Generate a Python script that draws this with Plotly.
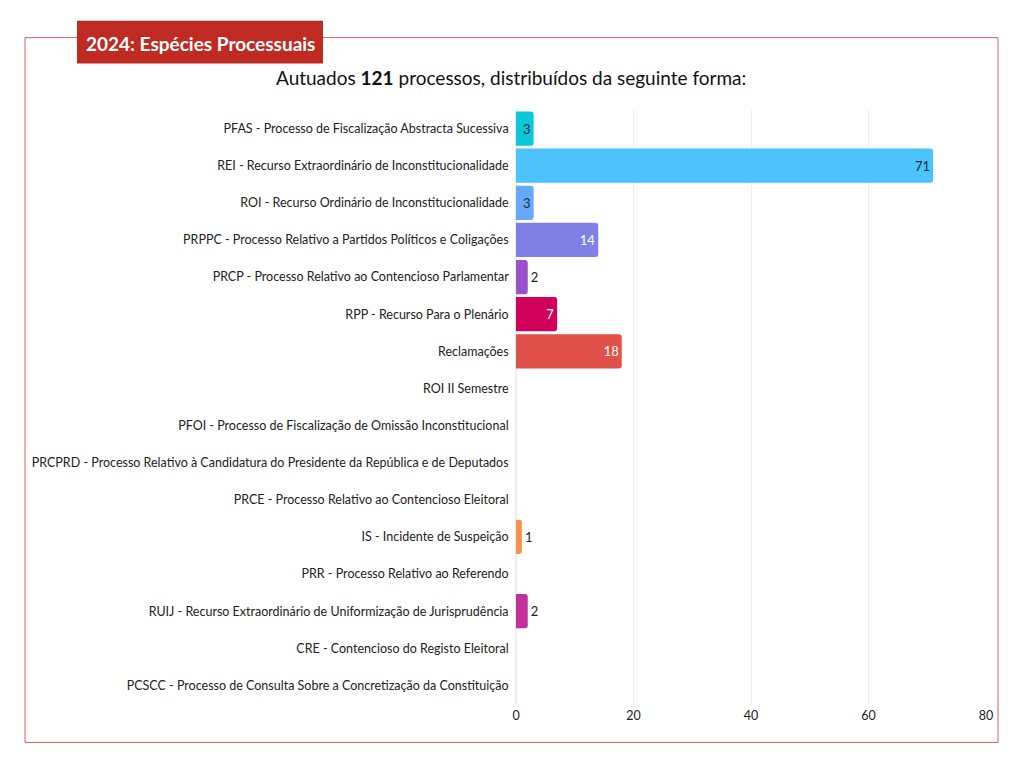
import plotly.graph_objects as go

categories = [
    "PFAS - Processo de Fiscalização Abstracta Sucessiva",
    "REI - Recurso Extraordinário de Inconstitucionalidade",
    "ROI - Recurso Ordinário de Inconstitucionalidade",
    "PRPPC - Processo Relativo a Partidos Políticos e Coligações",
    "PRCP - Processo Relativo ao Contencioso Parlamentar",
    "RPP - Recurso Para o Plenário",
    "Reclamações",
    "ROI II Semestre",
    "PFOI - Processo de Fiscalização de Omissão Inconstitucional",
    "PRCPRD - Processo Relativo à Candidatura do Presidente da República e de Deputados",
    "PRCE - Processo Relativo ao Contencioso Eleitoral",
    "IS - Incidente de Suspeição",
    "PRR - Processo Relativo ao Referendo",
    "RUIJ - Recurso Extraordinário de Uniformização de Jurisprudência",
    "CRE - Contencioso do Registo Eleitoral",
    "PCSCC - Processo de Consulta Sobre a Concretização da Constituição",
]
values = [3, 71, 3, 14, 2, 7, 18, 0, 0, 0, 0, 1, 0, 2, 0, 0]
bar_colors = ["#0cc6da", "#4cc3fb", "#66a9f9", "#7f80e6", "#9b51cb", "#d1005b",
              "#e0514a", "#cccccc", "#cccccc", "#cccccc", "#cccccc", "#f7934f",
              "#cccccc", "#c52f9b", "#cccccc", "#cccccc"]
text_positions = ["inside", "inside", "inside", "inside", "outside", "inside",
                  "inside", "none", "none", "none", "none", "outside",
                  "none", "outside", "none", "none"]
text_colors = ["#1d2b3a", "#1d2b3a", "#1d2b3a", "#ffffff", "#222222", "#ffffff",
               "#ffffff", "#222222", "#222222", "#222222", "#222222", "#222222",
               "#222222", "#222222", "#222222", "#222222"]
x_ticks = [0, 20, 40, 60, 80]

title_text = "2024: Espécies Processuais"
subtitle_text = "Autuados <b>121</b> processos, distribuídos da seguinte forma:"

FONT = "Lato"
OFF = 8  # page body margin offset

# plot area pixel geometry (in screenshot coordinates)
L, R, T, B = 516, 986, 109.5, 704.5
W, H = R - L, B - T
FIG_W, FIG_H = 1024 - OFF, 768 - OFF

def px_x(p):
    return (p - L) / W

def px_y(p):
    return (B - p) / H

fig = go.Figure(go.Bar(
    x=values,
    y=categories,
    orientation="h",
    marker=dict(color=bar_colors, cornerradius=3, line=dict(width=0)),
    text=[str(v) if v > 0 else "" for v in values],
    textposition=text_positions,
    insidetextanchor="end",
    textfont=dict(color=text_colors, size=13, family=FONT),
    outsidetextfont=dict(color="#222222", size=13, family=FONT),
    constraintext="none",
    cliponaxis=False,
))

fig.update_layout(
    width=FIG_W, height=FIG_H,
    margin=dict(l=L - OFF, r=1024 - R, t=T - OFF, b=768 - B, autoexpand=False),
    paper_bgcolor="white", plot_bgcolor="white",
    bargap=0.08,
    showlegend=False,
    font=dict(family=FONT, color="#222222", size=12),
    xaxis=dict(range=[0, 80], tickvals=x_ticks, showgrid=True, gridcolor="#eeeeee",
               gridwidth=1, zeroline=True, zerolinecolor="#eeeeee", showline=False,
               tickfont=dict(size=12.5, color="#222222"), ticks="", fixedrange=True,
               ticklabelstandoff=2),
    yaxis=dict(autorange="reversed", showgrid=False, ticks="", showline=False,
               tickfont=dict(size=12.5, color="#222222"), ticksuffix="  "),
    shapes=[
        dict(type="rect", xref="paper", yref="paper",
             x0=px_x(25), x1=px_x(998), y0=px_y(743), y1=px_y(37),
             line=dict(color="#e35d5d", width=1), fillcolor="rgba(0,0,0,0)", layer="below"),
        dict(type="rect", xref="paper", yref="paper",
             x0=px_x(77), x1=px_x(323), y0=px_y(63), y1=px_y(20),
             line=dict(width=0), fillcolor="#bf2a22", layer="above"),
    ],
    annotations=[
        dict(text="<b>" + title_text + "</b>", xref="paper", yref="paper",
             x=px_x(200), y=px_y(43), xanchor="center", yanchor="middle",
             showarrow=False, font=dict(color="white", size=19, family=FONT)),
        dict(text=subtitle_text, xref="paper", yref="paper",
             x=px_x(511), y=px_y(77), xanchor="center", yanchor="middle",
             showarrow=False, font=dict(color="#111111", size=19, family=FONT)),
    ],
)

fig.write_html("out.html")
